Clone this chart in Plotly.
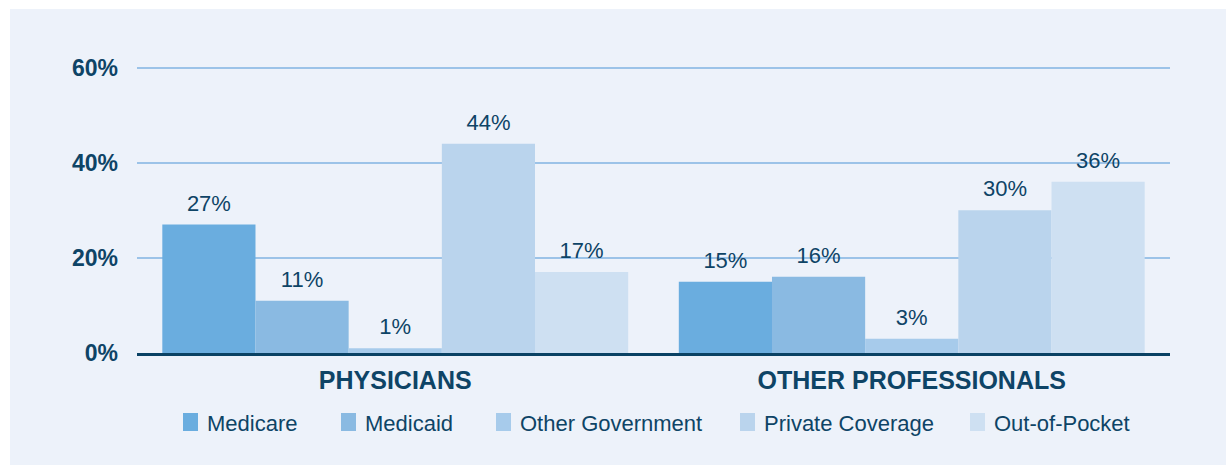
import plotly.graph_objects as go

# Share of spending by payer, for two provider groups
categories = ["PHYSICIANS", "OTHER PROFESSIONALS"]
payers = ["Medicare", "Medicaid", "Other Government", "Private Coverage", "Out-of-Pocket"]
medicare = [27, 15]
medicaid = [11, 16]
other_government = [1, 3]
private_coverage = [44, 30]
out_of_pocket = [17, 36]
y_ticks = [0, 20, 40, 60]
y_tick_labels = ["0%", "20%", "40%", "60%"]

series = [medicare, medicaid, other_government, private_coverage, out_of_pocket]
colors = ["#6AADDF", "#8ABAE2", "#A7CBEB", "#BAD4ED", "#CEE0F2"]

NAVY = "#0E4466"
PANEL = "#EDF2FA"
FONT = "Liberation Sans, Arial, sans-serif"

fig = go.Figure()

for name, vals, col in zip(payers, series, colors):
    fig.add_trace(go.Bar(
        x=categories, y=vals, name=name,
        marker=dict(color=col, line=dict(width=0)),
        offsetgroup=name, hoverinfo="skip", showlegend=False,
    ))

# value labels placed above each bar, grouped the same way as the bars
for name, vals in zip(payers, series):
    fig.add_trace(go.Scatter(
        x=categories, y=vals, mode="markers+text",
        text=[f"{v}%" for v in vals], textposition="top center",
        textfont=dict(family=FONT, size=22, color=NAVY),
        marker=dict(size=12, color="rgba(0,0,0,0)"),
        offsetgroup=name, showlegend=False, hoverinfo="skip", cliponaxis=False,
    ))

L, R, T, B = 137, 61, 58, 112
W, H = 1231, 465
pw, ph = W - L - R, H - T - B


def px_x(px):
    return (px - L) / pw


def px_y(py):
    return (H - B - py) / ph


shapes = [dict(
    type="rect", xref="paper", yref="paper", layer="below",
    x0=px_x(10), x1=px_x(1226), y0=px_y(465), y1=px_y(9),
    fillcolor=PANEL, line=dict(width=0),
)]
annotations = []

# legend row: swatch + label for each payer
legend_x = [183, 341, 496, 740, 970]
for name, col, lx in zip(payers, colors, legend_x):
    shapes.append(dict(
        type="rect", xref="paper", yref="paper", layer="above",
        x0=px_x(lx), x1=px_x(lx + 15), y0=px_y(431), y1=px_y(413),
        fillcolor=col, line=dict(width=0),
    ))
    annotations.append(dict(
        xref="paper", yref="paper", x=px_x(lx + 22), y=px_y(423),
        xanchor="left", yanchor="middle", showarrow=False, text=name,
        font=dict(family=FONT, size=22, color=NAVY),
    ))

fig.update_layout(
    width=W, height=H,
    margin=dict(l=L, r=R, t=T, b=B),
    paper_bgcolor="white",
    plot_bgcolor=PANEL,
    barmode="group", bargap=0.098, bargroupgap=0,
    scattermode="group", scattergap=0.098,
    font=dict(family=FONT, color=NAVY),
    shapes=shapes,
    annotations=annotations,
    showlegend=False,
    xaxis=dict(
        showgrid=False, showline=True, linecolor="#0A4264", linewidth=3,
        tickfont=dict(family=FONT, size=25, color=NAVY),
        ticks="", ticklabelstandoff=3,
        tickvals=categories, ticktext=[f"<b>{c}</b>" for c in categories],
    ),
    yaxis=dict(
        range=[0, 62], tickvals=y_ticks, ticktext=[f"<b>{t}</b>" for t in y_tick_labels],
        showgrid=True, gridcolor="#9CC3E8", gridwidth=2, zeroline=False,
        tickfont=dict(family=FONT, size=23, color=NAVY),
        ticks="", ticklabelstandoff=18, showline=False,
    ),
)

fig.write_html("out.html")
